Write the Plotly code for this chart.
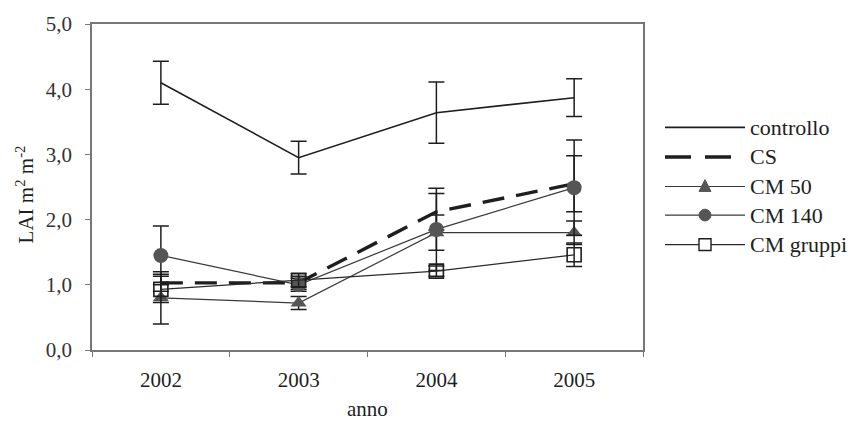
import plotly.graph_objects as go

# Leaf area index by year and treatment
years = ["2002", "2003", "2004", "2005"]
y_ticks = [0, 1, 2, 3, 4, 5]
y_tick_text = ["0,0", "1,0", "2,0", "3,0", "4,0", "5,0"]

controllo = [4.10, 2.95, 3.64, 3.87]
controllo_err = [0.33, 0.25, 0.47, 0.29]

cs = [1.03, 1.03, 2.12, 2.55]
cs_err = [0.13, 0.10, 0.28, 0.43]

cm50 = [0.80, 0.72, 1.80, 1.80]
cm50_err = [0.40, 0.10, 0.27, 0.18]

cm140 = [1.45, 1.00, 1.85, 2.49]
cm140_err = [0.45, 0.10, 0.63, 0.73]

cm_gruppi = [0.93, 1.07, 1.21, 1.46]
cm_gruppi_err = [0.20, 0.10, 0.08, 0.18]

FONT = "Liberation Serif, Times New Roman, serif"
INK = "#1e1e1e"
MARK = "#555555"
FS = 21

series = [
    dict(name="controllo", y=controllo, e=controllo_err,
         line=dict(color=INK, width=1.6), marker=None),
    dict(name="CS", y=cs, e=cs_err,
         line=dict(color=INK, width=3.4, dash="22px,12px"), marker=None),
    dict(name="CM 50", y=cm50, e=cm50_err,
         line=dict(color="#3a3a3a", width=1.2),
         marker=dict(symbol="triangle-up", size=14, color=MARK)),
    dict(name="CM 140", y=cm140, e=cm140_err,
         line=dict(color="#3a3a3a", width=1.2),
         marker=dict(symbol="circle", size=15, color=MARK)),
    dict(name="CM gruppi", y=cm_gruppi, e=cm_gruppi_err,
         line=dict(color="#2a2a2a", width=1.2),
         marker=dict(symbol="square-open", size=14, color=INK,
                     line=dict(width=1.6, color=INK))),
]

fig = go.Figure()
for s in series:
    fig.add_trace(go.Scatter(
        x=years, y=s["y"], name=s["name"],
        mode="lines+markers" if s["marker"] else "lines",
        line=s["line"],
        marker=s["marker"] if s["marker"] else None,
        error_y=dict(type="data", array=s["e"], visible=True,
                     color=INK, thickness=1.5, width=8),
        showlegend=False,
    ))

# Legend drawn as keys + labels to the right of the plot area
L, R, T, B = 92, 217, 19, 80
W, H = 860 - L - R, 430 - T - B
px = 1.0 / W
py = 1.0 / H
x0 = (665 - L) * px
x1 = (745 - L) * px
xm = (x0 + x1) / 2
xt = (748 - L) * px
rows_px = [124, 154, 184, 213, 243]

shapes = []
annotations = []
for s, rp in zip(series, rows_px):
    yc = (H - (rp - T)) * py
    ln = s["line"]
    shapes.append(dict(type="line", xref="paper", yref="paper",
                       x0=x0, x1=x1, y0=yc, y1=yc,
                       line=dict(color=ln["color"], width=ln["width"],
                                 dash="26px,14px" if ln.get("dash") else "solid")))
    m = s["marker"]
    if m:
        r = 6
        if m["symbol"] == "triangle-up":
            path = (f"M {xm - r*px} {yc - 5*py} L {xm + r*px} {yc - 5*py} "
                    f"L {xm} {yc + 7*py} Z")
            shapes.append(dict(type="path", xref="paper", yref="paper", path=path,
                               fillcolor=MARK, line=dict(color=MARK, width=1)))
        elif m["symbol"] == "circle":
            shapes.append(dict(type="circle", xref="paper", yref="paper",
                               x0=xm - r*px, x1=xm + r*px,
                               y0=yc - r*py, y1=yc + r*py,
                               fillcolor=MARK, line=dict(color=MARK, width=1)))
        else:
            shapes.append(dict(type="rect", xref="paper", yref="paper",
                               x0=xm - r*px, x1=xm + r*px,
                               y0=yc - r*py, y1=yc + r*py,
                               fillcolor="white", line=dict(color=INK, width=1.4)))
    annotations.append(dict(text=s["name"], xref="paper", yref="paper",
                            x=xt, y=yc, xanchor="left", yanchor="middle",
                            showarrow=False,
                            font=dict(family=FONT, size=FS + 1, color=INK)))

# Axis titles
annotations.append(dict(text="LAI m<sup>2</sup> m<sup>-2</sup>",
                        xref="paper", yref="paper",
                        x=(25 - L) * px, y=(H - (192 - T)) * py,
                        xanchor="center", yanchor="middle", textangle=-90,
                        showarrow=False,
                        font=dict(family=FONT, size=FS, color=INK)))
annotations.append(dict(text="anno", xref="paper", yref="paper",
                        x=0.5, y=(H - (410 - T)) * py,
                        xanchor="center", yanchor="middle",
                        showarrow=False,
                        font=dict(family=FONT, size=FS, color=INK)))

fig.update_layout(
    width=860, height=430,
    margin=dict(l=L, r=R, t=T, b=B, pad=0),
    paper_bgcolor="white", plot_bgcolor="white",
    font=dict(family=FONT, size=FS, color=INK),
    shapes=shapes, annotations=annotations,
    xaxis=dict(
        type="category", categoryorder="array", categoryarray=years,
        range=[-0.5, 3.5],
        showline=True, linecolor="#777777", linewidth=1.5, mirror=True,
        ticks="outside", tickson="boundaries", ticklen=5,
        tickcolor="#777777", showgrid=False, zeroline=False,
        ticklabelstandoff=10,
        tickfont=dict(family=FONT, size=FS, color=INK),
    ),
    yaxis=dict(
        range=[0, 5], tickvals=y_ticks, ticktext=y_tick_text,
        showline=True, linecolor="#777777", linewidth=1.5, mirror=True,
        ticks="outside", ticklen=5, tickcolor="#777777",
        showgrid=False, zeroline=False,
        ticklabelstandoff=9,
        tickfont=dict(family=FONT, size=FS, color="#333333"),
    ),
)

fig.write_html("out.html")
